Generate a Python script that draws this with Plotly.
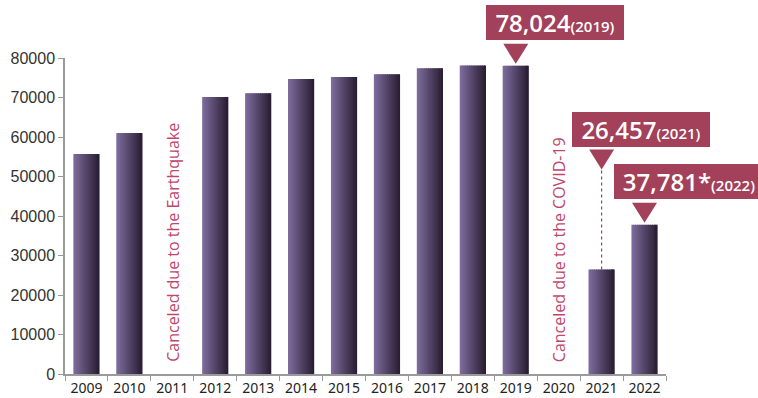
import plotly.graph_objects as go

# Participants per year (None = event not held)
years = ["2009", "2010", "2011", "2012", "2013", "2014", "2015", "2016",
         "2017", "2018", "2019", "2020", "2021", "2022"]
participants = [55700, 61000, None, 70100, 71100, 74700, 75200, 75900,
                77400, 78100, 78024, None, 26457, 37781]

# Highlighted years: (year, value text, suffix)
callouts = [("2019", "78,024", "(2019)"),
            ("2021", "26,457", "(2021)"),
            ("2022", "37,781*", "(2022)")]

cancel_notes = [("2011", "Canceled due to the Earthquake"),
                ("2020", "Canceled due to the COVID-19")]

y_ticks = [0, 10000, 20000, 30000, 40000, 50000, 60000, 70000, 80000]
Y_MAX = 80000

ACCENT = "#A3405A"
NOTE = "#C0476C"
LIGHT = (124, 107, 155)
DARK = (42, 31, 52)

fig = go.Figure()

# Bars with a left-to-right shading built from narrow side-by-side slices
bar_w = 0.61
n_slices = 14
step = bar_w / n_slices
for i in range(n_slices):
    t = i / (n_slices - 1)
    c = tuple(round(LIGHT[k] + (DARK[k] - LIGHT[k]) * t) for k in range(3))
    w = step if i == n_slices - 1 else step * 1.5
    fig.add_trace(go.Bar(
        x=years, y=participants,
        width=w,
        offset=-bar_w / 2 + i * step,
        marker=dict(color=f"rgb{c}", line=dict(width=0)),
        hoverinfo="skip", showlegend=False,
    ))

value_of = dict(zip(years, participants))
callout_geom = {
    "2019": dict(yshift=43, xshift=39.5, width=134, tri=(22, 2), stem=None),
    "2021": dict(yshift=140, xshift=39.5, width=134, tri=(120, 100), stem=(0, 100)),
    "2022": dict(yshift=43, xshift=44, width=146, tri=(22, 2), stem=None),
}

for yr, big, small in callouts:
    v = value_of[yr]
    xi = years.index(yr)
    g = callout_geom[yr]
    fig.add_annotation(
        x=xi, y=v, xref="x", yref="y",
        text=f"{big}<span style='font-size:15px'>{small}</span>",
        showarrow=False, xshift=g["xshift"], yshift=g["yshift"],
        bgcolor=ACCENT, borderpad=2, borderwidth=0,
        width=g["width"], height=31, align="center", valign="middle",
        font=dict(family="Open Sans", size=24, color="white", weight=600),
    )
    # pointer triangle (paper-referenced vertically so it is not clipped above the plot)
    top, bot = g["tri"]
    fig.add_shape(
        type="path", xref="x", yref="paper",
        xsizemode="pixel", ysizemode="pixel",
        xanchor=xi, yanchor=v / Y_MAX,
        path=f"M -12.5,{top} L 12.5,{top} L 0,{bot} Z",
        fillcolor=ACCENT, line=dict(width=0),
    )
    if g["stem"]:
        s0, s1 = g["stem"]
        fig.add_shape(
            type="line", xref="x", yref="paper",
            xsizemode="pixel", ysizemode="pixel",
            xanchor=xi, yanchor=v / Y_MAX,
            x0=0, x1=0, y0=s0, y1=s1,
            line=dict(color=ACCENT, width=1.2, dash="3px,3px"),
        )

for yr, note in cancel_notes:
    fig.add_annotation(
        x=years.index(yr), y=0, xref="x", yref="y", yanchor="bottom",
        yshift=10,
        text=note, textangle=-90, showarrow=False,
        font=dict(family="Open Sans", size=16, color=NOTE),
    )

fig.update_layout(
    width=758, height=398,
    margin=dict(l=65, r=92, t=58, b=24, autoexpand=False),
    paper_bgcolor="white", plot_bgcolor="white",
    barmode="overlay",
    xaxis=dict(
        type="category", range=[-0.5, 13.5], automargin=False,
        tickson="boundaries", ticks="outside", ticklen=5,
        tickcolor="#9a9a9a", showline=True, linecolor="#9a9a9a", linewidth=1.5,
        showgrid=False,
        tickfont=dict(family="Noto Sans", size=14, color="#222"),
    ),
    yaxis=dict(
        range=[0, Y_MAX], tickvals=y_ticks, tickformat="d", automargin=False,
        ticks="outside", ticklen=5, tickcolor="#9a9a9a",
        showline=True, linecolor="#9a9a9a", linewidth=1.5,
        showgrid=False, zeroline=False,
        tickfont=dict(family="Liberation Sans", size=16, color="#333"),
    ),
)

fig.write_html("out.html")
